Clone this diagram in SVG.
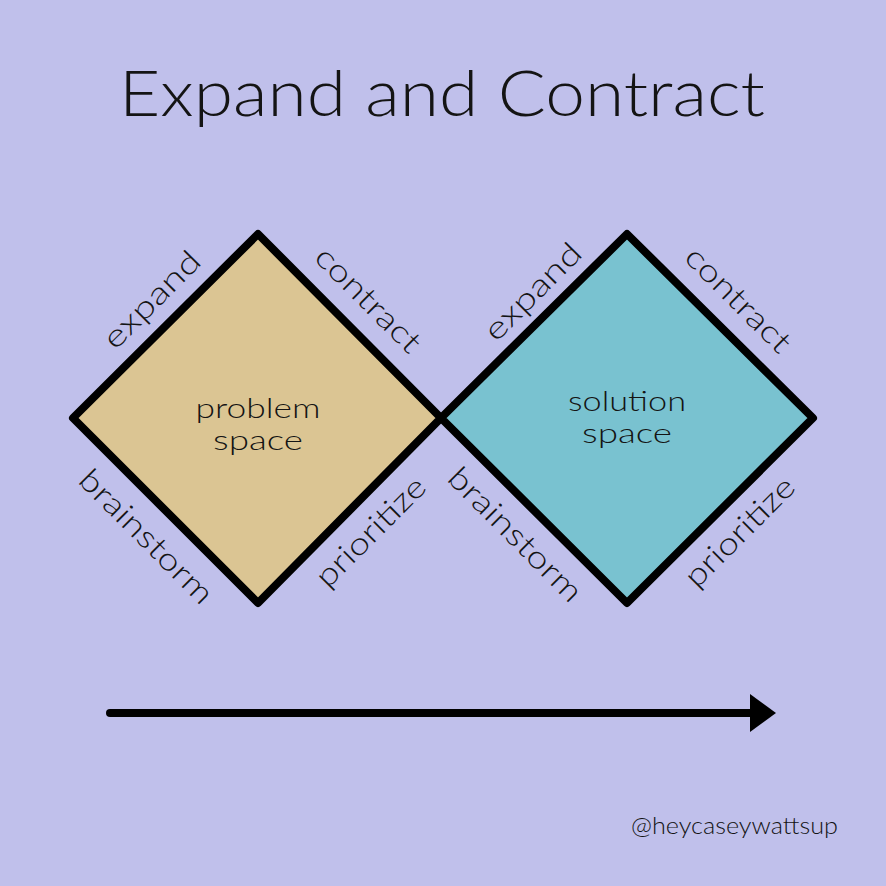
<svg xmlns="http://www.w3.org/2000/svg" width="886" height="886" viewBox="0 0 886 886">
<style>
text{font-family:"Lato","Open Sans","Liberation Sans",sans-serif;font-weight:300;fill:#141414}
.lbl{font-size:31px;text-anchor:middle}
.ctr{font-size:28px;text-anchor:middle}
.dia{stroke:#000;stroke-width:8;stroke-linejoin:round}
</style>
<rect width="886" height="886" fill="#c0c0eb"/>
<text x="119" y="116" font-size="63" textLength="646" lengthAdjust="spacingAndGlyphs">Expand and Contract</text>
<g id="problem">
<polygon class="dia" points="73,418 258,234 441,418 258,603" fill="#dbc593"/>
<text class="ctr" x="258" y="418" textLength="125" lengthAdjust="spacingAndGlyphs">problem</text>
<text class="ctr" x="258" y="450" textLength="90" lengthAdjust="spacingAndGlyphs">space</text>
<text class="lbl" transform="translate(152,300) rotate(-45)" y="10" textLength="124" lengthAdjust="spacingAndGlyphs">expand</text>
<text class="lbl" transform="translate(368,300) rotate(45)" y="10" textLength="136" lengthAdjust="spacingAndGlyphs">contract</text>
<text class="lbl" transform="translate(146,537) rotate(45)" y="10" textLength="176" lengthAdjust="spacingAndGlyphs">brainstorm</text>
<text class="lbl" transform="translate(371,532) rotate(-45)" y="10" textLength="142" lengthAdjust="spacingAndGlyphs">prioritize</text>
</g>
<g id="solution">
<polygon class="dia" points="441,418 627,234 813,418 627,603" fill="#79c2d0"/>
<text class="ctr" x="627" y="411" textLength="118" lengthAdjust="spacingAndGlyphs">solution</text>
<text class="ctr" x="627" y="443" textLength="90" lengthAdjust="spacingAndGlyphs">space</text>
<text class="lbl" transform="translate(533,292) rotate(-45)" y="10" textLength="124" lengthAdjust="spacingAndGlyphs">expand</text>
<text class="lbl" transform="translate(738,300) rotate(45)" y="10" textLength="136" lengthAdjust="spacingAndGlyphs">contract</text>
<text class="lbl" transform="translate(515,535) rotate(45)" y="10" textLength="176" lengthAdjust="spacingAndGlyphs">brainstorm</text>
<text class="lbl" transform="translate(740,532) rotate(-45)" y="10" textLength="142" lengthAdjust="spacingAndGlyphs">prioritize</text>
</g>
<g id="connectors">
<line x1="110" y1="713" x2="752" y2="713" stroke="#000" stroke-width="8" stroke-linecap="round"/>
<polygon points="750,694 776,713 750,732" fill="#000"/>
</g>
<text x="631" y="834" font-size="23" textLength="207" lengthAdjust="spacingAndGlyphs">@heycaseywattsup</text>
</svg>
